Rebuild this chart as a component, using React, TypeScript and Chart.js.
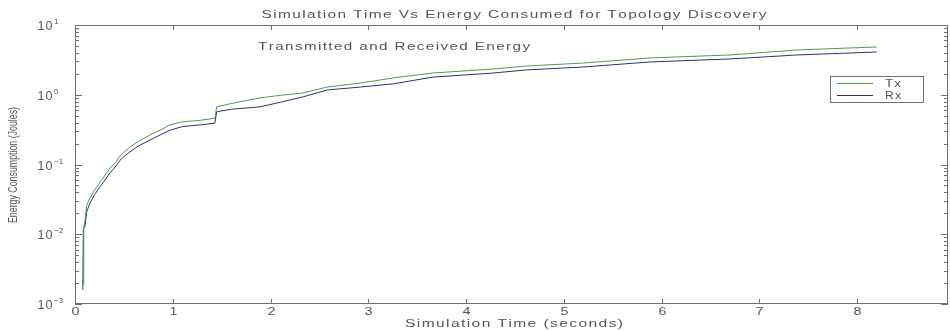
import React, { useEffect, useRef } from "react";
import { Chart, registerables } from "chart.js";

Chart.register(...registerables);

// ---- data ----
const txTime = [0.085, 0.09, 0.1, 0.12, 0.153, 0.2, 0.256, 0.3, 0.358, 0.41, 0.46, 0.5, 0.563, 0.65, 0.767, 0.87, 0.972, 1.1, 1.28, 1.43, 1.45, 1.6, 1.89, 2.1, 2.33, 2.58, 2.92, 3.25, 3.66, 4.28, 4.62, 5.2, 5.88, 6.7, 7.39, 8.2];
const txEnergy = [0.0019, 0.013, 0.015, 0.026, 0.033, 0.043, 0.056, 0.068, 0.089, 0.105, 0.132, 0.15, 0.178, 0.215, 0.265, 0.31, 0.37, 0.41, 0.43, 0.46, 0.67, 0.75, 0.9, 0.98, 1.06, 1.29, 1.47, 1.74, 2.05, 2.34, 2.58, 2.85, 3.37, 3.72, 4.39, 4.84];
const rxTime = [0.08, 0.085, 0.1, 0.12, 0.153, 0.2, 0.256, 0.3, 0.358, 0.41, 0.46, 0.5, 0.563, 0.65, 0.767, 0.87, 0.972, 1.1, 1.28, 1.43, 1.45, 1.6, 1.89, 2.1, 2.33, 2.58, 2.92, 3.25, 3.66, 4.28, 4.62, 5.2, 5.88, 6.7, 7.39, 8.2];
const rxEnergy = [0.0016, 0.012, 0.0126, 0.021, 0.028, 0.037, 0.048, 0.058, 0.076, 0.092, 0.115, 0.13, 0.152, 0.185, 0.224, 0.265, 0.31, 0.35, 0.37, 0.39, 0.57, 0.62, 0.67, 0.78, 0.93, 1.17, 1.29, 1.43, 1.79, 2.05, 2.27, 2.5, 2.95, 3.26, 3.72, 4.1];

const xTicks = [0, 1, 2, 3, 4, 5, 6, 7, 8];
const yDecades = [-3, -2, -1, 0, 1];
const seriesNames = ["Tx", "Rx"];
const seriesColors = ["#4f9a50", "#30306e"];

const titleText = "Simulation Time Vs Energy Consumed for Topology Discovery";
const subtitleText = "Transmitted and Received Energy";
const xLabel = "Simulation Time (seconds)";
const yLabel = "Energy Consumption (Joules)";

const TEXT = "#555555";
const FRAME = "#707070";
const FONT = "Arial, 'Liberation Sans', sans-serif";

// draws text centred at (cx, cy) stretched to `width` using 1px letter spacing + horizontal scale
function fitText(ctx: CanvasRenderingContext2D, text: string, cx: number, cy: number, width: number, font: string, spacing = 1) {
  ctx.save();
  ctx.font = font;
  ctx.textBaseline = "middle";
  ctx.textAlign = "left";
  const chars = Array.from(text);
  const widths = chars.map((c) => ctx.measureText(c).width);
  const natural = widths.reduce((a, b) => a + b, 0) + spacing * (chars.length - 1);
  const sx = width / natural;
  ctx.translate(cx - width / 2, cy);
  ctx.scale(sx, 1);
  let x = 0;
  chars.forEach((c, i) => {
    ctx.fillText(c, x, 0);
    x += widths[i] + spacing;
  });
  ctx.restore();
}

const decorPlugin = {
  id: "matlabDecor",
  afterDraw(chart: any) {
    const ctx: CanvasRenderingContext2D = chart.ctx;
    const { left, right, top, bottom } = chart.chartArea;
    const xs = chart.scales.x;
    const ys = chart.scales.y;
    ctx.save();
    ctx.strokeStyle = FRAME;
    ctx.lineWidth = 1;
    ctx.strokeRect(Math.round(left) + 0.5, Math.round(top) + 0.5, Math.round(right - left) - 1, Math.round(bottom - top) - 1);

    // x ticks
    ctx.fillStyle = TEXT;
    for (const t of xTicks) {
      const px = Math.round(xs.getPixelForValue(t)) + 0.5;
      ctx.beginPath();
      ctx.moveTo(px, bottom);
      ctx.lineTo(px, bottom - 5);
      ctx.moveTo(px, top);
      ctx.lineTo(px, top + 5);
      ctx.stroke();
      fitText(ctx, String(t), px, bottom + 8, 8, "11px " + FONT, 0);
    }

    // y ticks
    for (const d of yDecades) {
      const py = Math.round(ys.getPixelForValue(Math.pow(10, d))) + 0.5;
      ctx.beginPath();
      ctx.moveTo(left, py);
      ctx.lineTo(left + 7, py);
      ctx.moveTo(right, py);
      ctx.lineTo(right - 7, py);
      ctx.stroke();
      if (d < 1) {
        for (let m = 2; m <= 9; m++) {
          const pm = Math.round(ys.getPixelForValue(m * Math.pow(10, d))) + 0.5;
          ctx.beginPath();
          ctx.moveTo(left, pm);
          ctx.lineTo(left + 4, pm);
          ctx.moveTo(right, pm);
          ctx.lineTo(right - 4, pm);
          ctx.stroke();
        }
      }
      fitText(ctx, "10", 45, py + 1, 15, "12px " + FONT, 1);
      ctx.font = "8px " + FONT;
      ctx.textAlign = "left";
      ctx.textBaseline = "middle";
      ctx.fillText(String(d).replace("-", "\u2212"), 54, py - 4);
    }

    // texts
    ctx.fillStyle = TEXT;
    fitText(ctx, titleText, 514, 15, 505, "11px " + FONT, 1);
    fitText(ctx, subtitleText, 394, 47, 272, "11px " + FONT, 1);
    fitText(ctx, xLabel, 514, 324, 218, "11px " + FONT, 1);
    ctx.save();
    ctx.translate(14, 165);
    ctx.rotate(-Math.PI / 2);
    fitText(ctx, yLabel, 0, 0, 116, "12px " + FONT, 0);
    ctx.restore();

    // legend
    ctx.fillStyle = "#ffffff";
    ctx.fillRect(830, 76, 93, 26);
    ctx.strokeStyle = FRAME;
    ctx.strokeRect(830.5, 76.5, 93, 26);
    seriesNames.forEach((name, i) => {
      const ly = 83.5 + i * 12;
      ctx.strokeStyle = seriesColors[i];
      ctx.beginPath();
      ctx.moveTo(837, ly);
      ctx.lineTo(873, ly);
      ctx.stroke();
      ctx.fillStyle = TEXT;
      fitText(ctx, name, 893, ly, 16, "11px " + FONT, 1);
    });
    ctx.restore();
  },
};

export default function App() {
  const ref = useRef<HTMLCanvasElement>(null);
  useEffect(() => {
    document.body.style.margin = "0";
    const canvas = ref.current!;
    const chart = new Chart(canvas, {
      type: "line",
      data: {
        datasets: [
          {
            label: seriesNames[0],
            data: txTime.map((t, i) => ({ x: t, y: txEnergy[i] })),
            borderColor: seriesColors[0],
            borderWidth: 1,
            pointRadius: 0,
            tension: 0,
          },
          {
            label: seriesNames[1],
            data: rxTime.map((t, i) => ({ x: t, y: rxEnergy[i] })),
            borderColor: seriesColors[1],
            borderWidth: 1,
            pointRadius: 0,
            tension: 0,
          },
        ],
      },
      options: {
        responsive: false,
        animation: false,
        layout: { padding: { left: 75, right: 2, top: 25, bottom: 27 } },
        plugins: { legend: { display: false }, title: { display: false }, tooltip: { enabled: false } },
        scales: {
          x: { type: "linear", min: 0, max: 8.93, display: false },
          y: { type: "logarithmic", min: 0.001, max: 10, display: false },
        },
      },
      plugins: [decorPlugin],
    });
    return () => chart.destroy();
  }, []);
  return <canvas ref={ref} width={950} height={331} style={{ display: "block", background: "#ffffff" }} />;
}
